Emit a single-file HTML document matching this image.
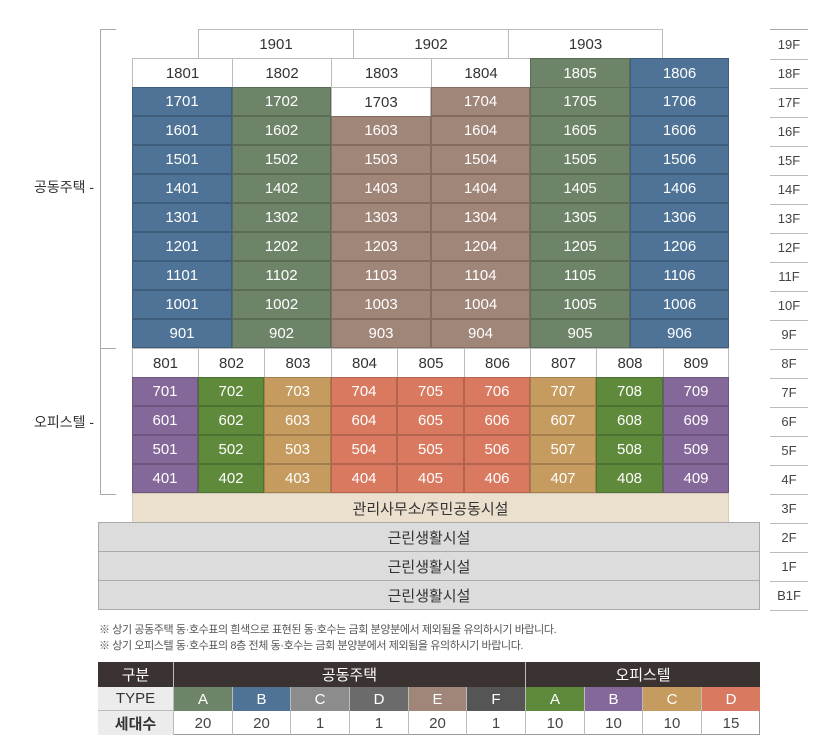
<!DOCTYPE html>
<html><head><meta charset="utf-8"><style>
body{margin:0;width:840px;height:754px;background:#fff;position:relative;overflow:hidden;font-family:"Liberation Sans","Noto Sans CJK KR",sans-serif}
.c{position:absolute;box-sizing:border-box;display:flex;align-items:center;justify-content:center;font-size:15px;color:#fff;border:1px solid rgba(0,0,0,0.18)}
.w{background:#fff;color:#333;border:1px solid #bbb}
.bl{background:#4e7396}.gr{background:#6e8469}.br{background:#a08579}
.pu{background:#85689a}.og{background:#5f8a3b}.tn{background:#c69b5f}.sa{background:#d97a60}
.f{position:absolute;left:770px;width:38px;height:29px;border-bottom:1px solid #bbb;display:flex;align-items:center;justify-content:center;font-size:13px;color:#444}
.line{position:absolute;background:#aaa}
.t{position:absolute;box-sizing:border-box;display:flex;align-items:center;justify-content:center;font-size:15px;border-right:1px solid #bbb}
</style></head><body>
<!-- brackets -->
<div class="line" style="left:100px;top:29px;width:1px;height:319px"></div>
<div class="line" style="left:100px;top:29px;width:16px;height:1px"></div>
<div class="line" style="left:100px;top:348px;width:16px;height:1px"></div>
<div class="line" style="left:100px;top:348px;width:1px;height:146px"></div>
<div class="line" style="left:100px;top:494px;width:16px;height:1px"></div>
<div style="position:absolute;left:34px;top:177px;font-size:14px;color:#333">공동주택 -</div>
<div style="position:absolute;left:34px;top:412px;font-size:14px;color:#333">오피스텔 -</div>
<!-- floor labels -->
<div class="line" style="left:770px;top:29px;width:38px;height:1px"></div>
<div class="f" style="top:30px">19F</div><div class="f" style="top:59px">18F</div><div class="f" style="top:88px">17F</div><div class="f" style="top:117px">16F</div><div class="f" style="top:146px">15F</div><div class="f" style="top:175px">14F</div><div class="f" style="top:204px">13F</div><div class="f" style="top:233px">12F</div><div class="f" style="top:262px">11F</div><div class="f" style="top:291px">10F</div><div class="f" style="top:320px">9F</div><div class="f" style="top:349px">8F</div><div class="f" style="top:378px">7F</div><div class="f" style="top:407px">6F</div><div class="f" style="top:436px">5F</div><div class="f" style="top:465px">4F</div><div class="f" style="top:494px">3F</div><div class="f" style="top:523px">2F</div><div class="f" style="top:552px">1F</div><div class="f" style="top:581px">B1F</div>
<!-- 19F -->
<div class="c w" style="left:198px;top:29px;width:156px;height:30px">1901</div>
<div class="c w" style="left:353px;top:29px;width:156px;height:30px">1902</div>
<div class="c w" style="left:508px;top:29px;width:155px;height:30px">1903</div>
<!-- 18F -->
<div class="c w" style="left:132px;top:58px;width:101px;height:30px">1801</div>
<div class="c w" style="left:232px;top:58px;width:100px;height:30px">1802</div>
<div class="c w" style="left:331px;top:58px;width:101px;height:30px">1803</div>
<div class="c w" style="left:431px;top:58px;width:100px;height:30px">1804</div>
<div class="c gr" style="left:530px;top:58px;width:100px;height:30px">1805</div>
<div class="c bl" style="left:630px;top:58px;width:99px;height:30px">1806</div>
<!-- 17F -->
<div class="c bl" style="left:132px;top:87px;width:100px;height:29px">1701</div>
<div class="c gr" style="left:232px;top:87px;width:99px;height:29px">1702</div>
<div class="c w" style="left:331px;top:87px;width:100px;height:30px">1703</div>
<div class="c br" style="left:431px;top:87px;width:99px;height:29px">1704</div>
<div class="c gr" style="left:530px;top:87px;width:100px;height:29px">1705</div>
<div class="c bl" style="left:630px;top:87px;width:99px;height:29px">1706</div>
<!-- 16F -9F -->
<div class="c bl" style="left:132px;top:116px;width:100px;height:29px">1601</div><div class="c gr" style="left:232px;top:116px;width:99px;height:29px">1602</div><div class="c br" style="left:331px;top:116px;width:100px;height:29px">1603</div><div class="c br" style="left:431px;top:116px;width:99px;height:29px">1604</div><div class="c gr" style="left:530px;top:116px;width:100px;height:29px">1605</div><div class="c bl" style="left:630px;top:116px;width:99px;height:29px">1606</div>
<div class="c bl" style="left:132px;top:145px;width:100px;height:29px">1501</div><div class="c gr" style="left:232px;top:145px;width:99px;height:29px">1502</div><div class="c br" style="left:331px;top:145px;width:100px;height:29px">1503</div><div class="c br" style="left:431px;top:145px;width:99px;height:29px">1504</div><div class="c gr" style="left:530px;top:145px;width:100px;height:29px">1505</div><div class="c bl" style="left:630px;top:145px;width:99px;height:29px">1506</div>
<div class="c bl" style="left:132px;top:174px;width:100px;height:29px">1401</div><div class="c gr" style="left:232px;top:174px;width:99px;height:29px">1402</div><div class="c br" style="left:331px;top:174px;width:100px;height:29px">1403</div><div class="c br" style="left:431px;top:174px;width:99px;height:29px">1404</div><div class="c gr" style="left:530px;top:174px;width:100px;height:29px">1405</div><div class="c bl" style="left:630px;top:174px;width:99px;height:29px">1406</div>
<div class="c bl" style="left:132px;top:203px;width:100px;height:29px">1301</div><div class="c gr" style="left:232px;top:203px;width:99px;height:29px">1302</div><div class="c br" style="left:331px;top:203px;width:100px;height:29px">1303</div><div class="c br" style="left:431px;top:203px;width:99px;height:29px">1304</div><div class="c gr" style="left:530px;top:203px;width:100px;height:29px">1305</div><div class="c bl" style="left:630px;top:203px;width:99px;height:29px">1306</div>
<div class="c bl" style="left:132px;top:232px;width:100px;height:29px">1201</div><div class="c gr" style="left:232px;top:232px;width:99px;height:29px">1202</div><div class="c br" style="left:331px;top:232px;width:100px;height:29px">1203</div><div class="c br" style="left:431px;top:232px;width:99px;height:29px">1204</div><div class="c gr" style="left:530px;top:232px;width:100px;height:29px">1205</div><div class="c bl" style="left:630px;top:232px;width:99px;height:29px">1206</div>
<div class="c bl" style="left:132px;top:261px;width:100px;height:29px">1101</div><div class="c gr" style="left:232px;top:261px;width:99px;height:29px">1102</div><div class="c br" style="left:331px;top:261px;width:100px;height:29px">1103</div><div class="c br" style="left:431px;top:261px;width:99px;height:29px">1104</div><div class="c gr" style="left:530px;top:261px;width:100px;height:29px">1105</div><div class="c bl" style="left:630px;top:261px;width:99px;height:29px">1106</div>
<div class="c bl" style="left:132px;top:290px;width:100px;height:29px">1001</div><div class="c gr" style="left:232px;top:290px;width:99px;height:29px">1002</div><div class="c br" style="left:331px;top:290px;width:100px;height:29px">1003</div><div class="c br" style="left:431px;top:290px;width:99px;height:29px">1004</div><div class="c gr" style="left:530px;top:290px;width:100px;height:29px">1005</div><div class="c bl" style="left:630px;top:290px;width:99px;height:29px">1006</div>
<div class="c bl" style="left:132px;top:319px;width:100px;height:29px">901</div><div class="c gr" style="left:232px;top:319px;width:99px;height:29px">902</div><div class="c br" style="left:331px;top:319px;width:100px;height:29px">903</div><div class="c br" style="left:431px;top:319px;width:99px;height:29px">904</div><div class="c gr" style="left:530px;top:319px;width:100px;height:29px">905</div><div class="c bl" style="left:630px;top:319px;width:99px;height:29px">906</div>
<!-- office 8F -->
<div class="c w" style="left:132px;top:348px;width:67px;height:30px">801</div><div class="c w" style="left:198px;top:348px;width:67px;height:30px">802</div><div class="c w" style="left:264px;top:348px;width:68px;height:30px">803</div><div class="c w" style="left:331px;top:348px;width:67px;height:30px">804</div><div class="c w" style="left:397px;top:348px;width:68px;height:30px">805</div><div class="c w" style="left:464px;top:348px;width:67px;height:30px">806</div><div class="c w" style="left:530px;top:348px;width:67px;height:30px">807</div><div class="c w" style="left:596px;top:348px;width:68px;height:30px">808</div><div class="c w" style="left:663px;top:348px;width:66px;height:30px">809</div>
<div class="c pu" style="left:132px;top:377px;width:66px;height:29px">701</div><div class="c og" style="left:198px;top:377px;width:66px;height:29px">702</div><div class="c tn" style="left:264px;top:377px;width:67px;height:29px">703</div><div class="c sa" style="left:331px;top:377px;width:66px;height:29px">704</div><div class="c sa" style="left:397px;top:377px;width:67px;height:29px">705</div><div class="c sa" style="left:464px;top:377px;width:66px;height:29px">706</div><div class="c tn" style="left:530px;top:377px;width:66px;height:29px">707</div><div class="c og" style="left:596px;top:377px;width:67px;height:29px">708</div><div class="c pu" style="left:663px;top:377px;width:66px;height:29px">709</div>
<div class="c pu" style="left:132px;top:406px;width:66px;height:29px">601</div><div class="c og" style="left:198px;top:406px;width:66px;height:29px">602</div><div class="c tn" style="left:264px;top:406px;width:67px;height:29px">603</div><div class="c sa" style="left:331px;top:406px;width:66px;height:29px">604</div><div class="c sa" style="left:397px;top:406px;width:67px;height:29px">605</div><div class="c sa" style="left:464px;top:406px;width:66px;height:29px">606</div><div class="c tn" style="left:530px;top:406px;width:66px;height:29px">607</div><div class="c og" style="left:596px;top:406px;width:67px;height:29px">608</div><div class="c pu" style="left:663px;top:406px;width:66px;height:29px">609</div>
<div class="c pu" style="left:132px;top:435px;width:66px;height:29px">501</div><div class="c og" style="left:198px;top:435px;width:66px;height:29px">502</div><div class="c tn" style="left:264px;top:435px;width:67px;height:29px">503</div><div class="c sa" style="left:331px;top:435px;width:66px;height:29px">504</div><div class="c sa" style="left:397px;top:435px;width:67px;height:29px">505</div><div class="c sa" style="left:464px;top:435px;width:66px;height:29px">506</div><div class="c tn" style="left:530px;top:435px;width:66px;height:29px">507</div><div class="c og" style="left:596px;top:435px;width:67px;height:29px">508</div><div class="c pu" style="left:663px;top:435px;width:66px;height:29px">509</div>
<div class="c pu" style="left:132px;top:464px;width:66px;height:29px">401</div><div class="c og" style="left:198px;top:464px;width:66px;height:29px">402</div><div class="c tn" style="left:264px;top:464px;width:67px;height:29px">403</div><div class="c sa" style="left:331px;top:464px;width:66px;height:29px">404</div><div class="c sa" style="left:397px;top:464px;width:67px;height:29px">405</div><div class="c sa" style="left:464px;top:464px;width:66px;height:29px">406</div><div class="c tn" style="left:530px;top:464px;width:66px;height:29px">407</div><div class="c og" style="left:596px;top:464px;width:67px;height:29px">408</div><div class="c pu" style="left:663px;top:464px;width:66px;height:29px">409</div>
<!-- 3F -->
<div class="c" style="left:132px;top:493px;width:597px;height:30px;background:#ebe0cd;color:#333;border:1px solid #d6cbb8">관리사무소/주민공동시설</div>
<!-- retail -->
<div class="c" style="left:98px;top:522px;width:662px;height:30px;background:#dcdcdc;color:#333;border:1px solid #aaa">근린생활시설</div>
<div class="c" style="left:98px;top:551px;width:662px;height:30px;background:#dcdcdc;color:#333;border:1px solid #aaa">근린생활시설</div>
<div class="c" style="left:98px;top:580px;width:662px;height:30px;background:#dcdcdc;color:#333;border:1px solid #aaa">근린생활시설</div>
<!-- notes -->
<div style="position:absolute;left:99px;top:622px;font-size:11px;color:#555;line-height:16px;letter-spacing:-0.4px">※ 상기 공동주택 동·호수표의 흰색으로 표현된 동·호수는 금회 분양분에서 제외됨을 유의하시기 바랍니다.<br>※ 상기 오피스텔 동·호수표의 8층 전체 동·호수는 금회 분양분에서 제외됨을 유의하시기 바랍니다.</div>
<!-- table -->
<div style="position:absolute;left:98px;top:662px;width:662px;height:73px;border:1px solid #999;box-sizing:border-box"></div>
<div class="t" style="left:98px;top:662px;width:76px;height:25px;background:#3a3331;color:#fff">구분</div>
<div class="t" style="left:174px;top:662px;width:352px;height:25px;background:#3a3331;color:#fff">공동주택</div>
<div class="t" style="left:526px;top:662px;width:234px;height:25px;background:#3a3331;color:#fff;border:none">오피스텔</div>
<div class="t" style="left:98px;top:687px;width:76px;height:24px;background:#ececec;color:#333;border-bottom:1px solid #bbb">TYPE</div>
<div class="t" style="left:174px;top:687px;width:59px;height:24px;background:#6e8469;color:#fff">A</div>
<div class="t" style="left:233px;top:687px;width:58px;height:24px;background:#4e7396;color:#fff">B</div>
<div class="t" style="left:291px;top:687px;width:59px;height:24px;background:#8c8c8c;color:#fff">C</div>
<div class="t" style="left:350px;top:687px;width:59px;height:24px;background:#6b6b6b;color:#fff">D</div>
<div class="t" style="left:409px;top:687px;width:58px;height:24px;background:#a08579;color:#fff">E</div>
<div class="t" style="left:467px;top:687px;width:59px;height:24px;background:#555;color:#fff">F</div>
<div class="t" style="left:526px;top:687px;width:59px;height:24px;background:#5f8a3b;color:#fff">A</div>
<div class="t" style="left:585px;top:687px;width:58px;height:24px;background:#85689a;color:#fff">B</div>
<div class="t" style="left:643px;top:687px;width:59px;height:24px;background:#c69b5f;color:#fff">C</div>
<div class="t" style="left:702px;top:687px;width:58px;height:24px;background:#d97a60;color:#fff;border:none">D</div>
<div class="t" style="left:98px;top:711px;width:76px;height:24px;background:#ececec;color:#333;font-weight:bold">세대수</div>
<div class="t" style="left:174px;top:711px;width:59px;height:24px;color:#444">20</div>
<div class="t" style="left:233px;top:711px;width:58px;height:24px;color:#444">20</div>
<div class="t" style="left:291px;top:711px;width:59px;height:24px;color:#444">1</div>
<div class="t" style="left:350px;top:711px;width:59px;height:24px;color:#444">1</div>
<div class="t" style="left:409px;top:711px;width:58px;height:24px;color:#444">20</div>
<div class="t" style="left:467px;top:711px;width:59px;height:24px;color:#444">1</div>
<div class="t" style="left:526px;top:711px;width:59px;height:24px;color:#444">10</div>
<div class="t" style="left:585px;top:711px;width:58px;height:24px;color:#444">10</div>
<div class="t" style="left:643px;top:711px;width:59px;height:24px;color:#444">10</div>
<div class="t" style="left:702px;top:711px;width:58px;height:24px;color:#444;border:none">15</div>
</body></html>
